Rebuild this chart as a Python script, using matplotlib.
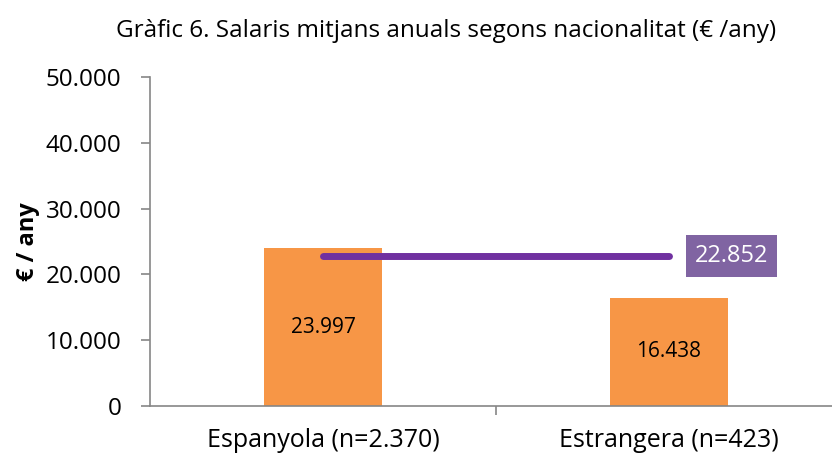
import matplotlib
matplotlib.use("Agg")
import matplotlib.pyplot as plt
from matplotlib.ticker import FuncFormatter

# dades
categories = ["Espanyola (n=2.370)", "Estrangera (n=423)"]
salaris = [23997, 16438]
mitjana = 22852
yticks = [0, 10000, 20000, 30000, 40000, 50000]

plt.rcParams["font.family"] = ["Open Sans", "DejaVu Sans"]


def fmt_ca(v):
    return f"{v:,.0f}".replace(",", ".")


fig = plt.figure(figsize=(8.32, 4.57), dpi=100)
ax = fig.add_axes([150 / 832, 1 - 406 / 457, 682 / 832, (406 - 77) / 457])

x = list(range(len(categories)))
ax.bar(x, salaris, width=0.34, color="#F79646", zorder=2)
for xi, v in zip(x, salaris):
    ax.text(xi, v / 2, fmt_ca(v), ha="center", va="center", fontsize=15, color="black")

# línia de la mitjana
ax.plot([x[0], x[-1]], [mitjana, mitjana], color="#7030A0", lw=5,
        solid_capstyle="round", zorder=3)
ax.text(x[-1] + 0.075, mitjana, fmt_ca(mitjana), ha="left", va="center",
        fontsize=17, color="white",
        bbox=dict(boxstyle="square,pad=0.38", fc="#8064A2", ec="none"))

ax.set_xlim(-0.5, 1.471)
ax.set_ylim(0, 50000)
ax.set_yticks(yticks)
ax.yaxis.set_major_formatter(FuncFormatter(lambda v, p: fmt_ca(v)))
ax.set_xticks([0.5], minor=False)
ax.set_xticklabels([""])
ax.set_xticks(x, minor=True)
ax.set_xticklabels(categories, minor=True, fontsize=18)
ax.tick_params(axis="x", which="minor", length=0, pad=16)
ax.tick_params(axis="x", which="major", length=6.5, color="#868686", width=1.2)
ax.tick_params(axis="y", length=6.5, color="#868686", width=1.2, labelsize=17.5, pad=14)

for s in ["top", "right"]:
    ax.spines[s].set_visible(False)
for s in ["left", "bottom"]:
    ax.spines[s].set_color("#868686")
    ax.spines[s].set_linewidth(1.2)

ax.set_ylabel("€ / any", fontsize=17, fontweight="bold", labelpad=4)
fig.text(446 / 832, 1 - 31 / 457, "Gràfic 6. Salaris mitjans anuals segons nacionalitat (€ /any)",
         ha="center", va="center", fontsize=17.5)

fig.savefig("out.png", dpi=100)
